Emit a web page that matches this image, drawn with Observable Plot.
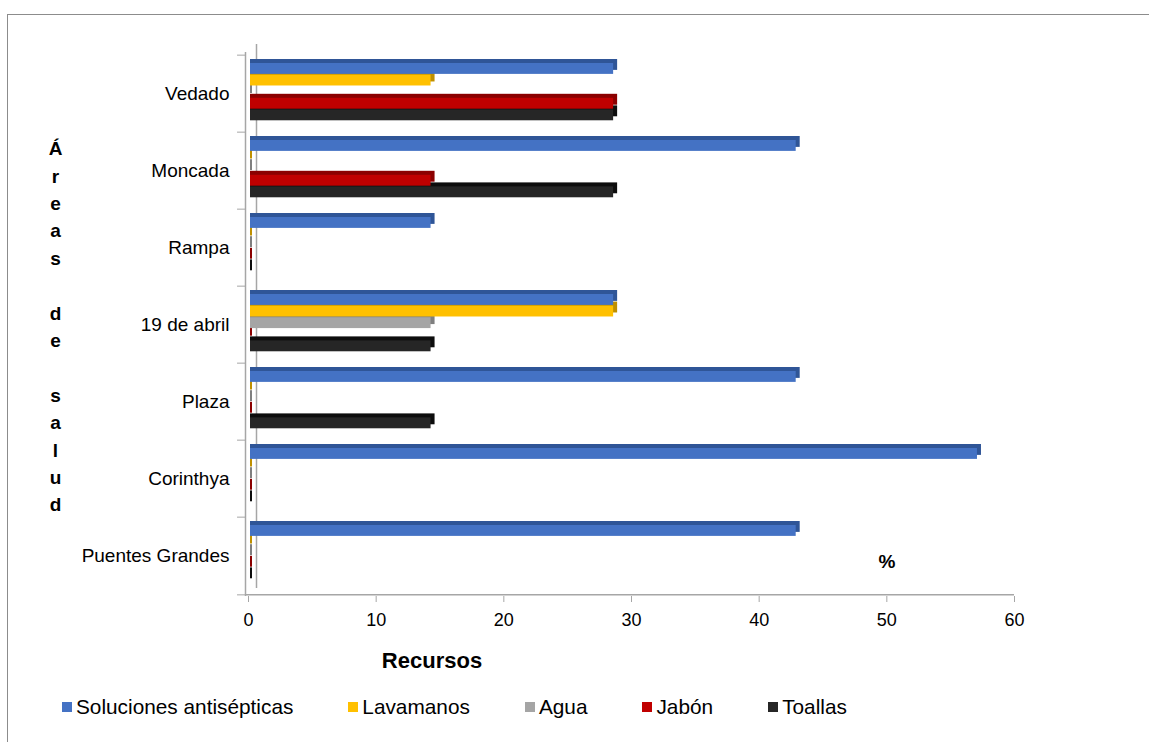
<!DOCTYPE html>
<html>
<head>
<meta charset="utf-8">
<script src="https://cdn.jsdelivr.net/npm/d3@7"></script>
<script src="https://cdn.jsdelivr.net/npm/@observablehq/plot@0.6"></script>
<style>
  body { margin: 0; background: #fff; font-family: "Liberation Sans", Arial, sans-serif; }
  #border { position: absolute; left: 7px; top: 14px; width: 1300px; height: 900px; border: 1px solid #8c8c8c; }
  #chart { position: absolute; left: 0; top: 0; }
  #xlabel { position: absolute; left: 282px; top: 648px; width: 300px; text-align: center;
            font-weight: bold; font-size: 22px; line-height: 26px; color: #000; }
  #legend { position: absolute; left: 62px; top: 694px; height: 26px; display: flex; align-items: center;
            font-size: 20.8px; line-height: 26px; color: #000; }
  #legend .item { display: flex; align-items: center; margin-right: 55px; }
  #legend .sw { width: 10px; height: 10px; margin-right: 4px; }
</style>
</head>
<body>
<div id="border"></div>
<div id="chart"></div>
<div id="xlabel">Recursos</div>
<div id="legend"></div>
<script>
// Health areas (top to bottom) and the share (%) of each resource present
const categories = ["Vedado", "Moncada", "Rampa", "19 de abril", "Plaza", "Corinthya", "Puentes Grandes"];
const seriesNames = ["Soluciones antisépticas", "Lavamanos", "Agua", "Jabón", "Toallas"];
const soluciones = [28.6, 42.9, 14.3, 28.6, 42.9, 57.1, 42.9];
const lavamanos  = [14.3, 0, 0, 28.6, 0, 0, 0];
const agua       = [0, 0, 0, 14.3, 0, 0, 0];
const jabon      = [28.6, 14.3, 0, 0, 0, 0, 0];
const toallas    = [28.6, 28.6, 0, 14.3, 14.3, 0, 0];
const xTicks = [0, 10, 20, 30, 40, 50, 60];

const faceColors = ["#4472C4", "#FFC000", "#A5A5A5", "#C00000", "#262626"];
const edgeColors = ["#2F5597", "#BF9000", "#7F7F7F", "#8B0000", "#0D0D0D"];
const axisGrey = "#A6A6A6";

const seriesValues = [soluciones, lavamanos, agua, jabon, toallas];
const seriesData = seriesValues.map((vals, i) =>
  categories.map((area, j) => ({ area, value: vals[j], series: seriesNames[i] })));

// Layout of the bar area
const W = 1149, H = 640;
const mTop = 52, mBottom = 44, mLeft = 248, mRight = 135;
const band = (H - mTop - mBottom) / categories.length;
const barH = 11.6, barTop = 8, depth = 4;

// One shaded "3D" bar set per series: a darker extruded edge behind a flat face.
// Drawn from the last series up so each upper bar hides the top face of the one below.
const barMarks = [];
for (let i = seriesNames.length - 1; i >= 0; --i) {
  const insetTop = barTop + barH * i;
  const insetBottom = band - barTop - barH * (i + 1);
  barMarks.push(
    Plot.barX(seriesData[i], {
      x1: 0, x2: "value", y: "area", fill: edgeColors[i],
      insetTop, insetBottom, insetLeft: 2, insetRight: -depth, dy: -depth
    }),
    Plot.barX(seriesData[i], {
      x1: 0, x2: "value", y: "area", fill: faceColors[i],
      insetTop, insetBottom, insetLeft: 2
    })
  );
}

const lastArea = categories[categories.length - 1];
const unitNote = [{ text: "%", x: 50, area: lastArea }];

const chart = Plot.plot({
  width: W,
  height: H,
  marginTop: mTop,
  marginBottom: mBottom,
  marginLeft: mLeft,
  marginRight: mRight,
  style: { background: "transparent", fontFamily: "\"Liberation Sans\", Arial, sans-serif", color: "#000" },
  x: { domain: [0, 60] },
  y: { domain: categories, padding: 0 },
  marks: [
    // back wall of the 3D plot area
    Plot.ruleX([0], { stroke: axisGrey, strokeWidth: 1.5, dx: -3 }),
    Plot.ruleX([0], { stroke: axisGrey, strokeWidth: 1.5, dx: 8, dy: -8 }),
    // category boundary ticks on the vertical axis
    Plot.ruleY(categories, { y: d => d, x1: -0.86, x2: -0.23, dy: -band / 2, stroke: axisGrey }),
    Plot.ruleY([lastArea], { y: d => d, x1: -0.86, x2: -0.23, dy: band / 2, stroke: axisGrey }),
    // floor line
    Plot.ruleY([lastArea], { y: d => d, x1: 0, x2: 60, insetLeft: -3, dy: band / 2, stroke: axisGrey, strokeWidth: 1.5 }),
    ...barMarks,
    Plot.axisY({ tickSize: 0, tickPadding: 19, fontSize: 19, fill: "#000", label: null }),
    Plot.axisX({ ticks: xTicks, tickSize: 6, tickPadding: 11, fontSize: 18, stroke: axisGrey, fill: "#000", label: null }),
    // vertical axis title, one letter per line
    Plot.text(["Á\nr\ne\na\ns\n\u00a0\nd\ne\n\u00a0\ns\na\nl\nu\nd"], {
      frameAnchor: "left", dx: 55 - mLeft, textAnchor: "middle",
      fontSize: 19, fontWeight: "bold", lineHeight: 1.442, fill: "#000"
    }),
    Plot.text(unitNote, { text: "text", x: "x", y: "area", dy: 6, fontSize: 19, fontWeight: "bold", fill: "#000" })
  ]
});
document.getElementById("chart").appendChild(chart);

// Legend
const legend = document.getElementById("legend");
seriesNames.forEach((name, i) => {
  const item = document.createElement("div");
  item.className = "item";
  const sw = document.createElement("span");
  sw.className = "sw";
  sw.style.background = faceColors[i];
  const label = document.createElement("span");
  label.textContent = name;
  item.append(sw, label);
  legend.appendChild(item);
});
</script>
</body>
</html>
